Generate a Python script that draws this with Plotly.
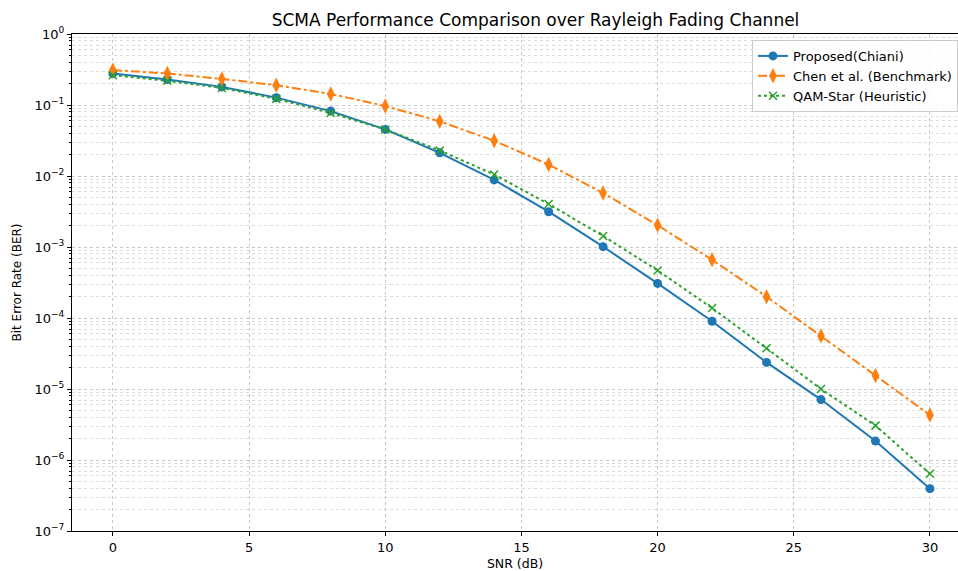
import plotly.graph_objects as go

snr = [0, 2, 4, 6, 8, 10, 12, 14, 16, 18, 20, 22, 24, 26, 28, 30]
ber_proposed = [0.278, 0.229, 0.18, 0.127, 0.082, 0.0453, 0.0212, 0.0088, 0.00314, 0.00101,
                3.07e-4, 9.0e-5, 2.37e-5, 7.1e-6, 1.85e-6, 3.95e-7]
ber_chen = [0.31, 0.278, 0.233, 0.19, 0.143, 0.0968, 0.0588, 0.0314, 0.0145, 0.00576,
            0.00203, 6.6e-4, 2.0e-4, 5.6e-5, 1.55e-5, 4.3e-6]
ber_qam = [0.263, 0.219, 0.174, 0.122, 0.077, 0.0453, 0.0229, 0.0105, 0.00403, 0.00143,
           4.68e-4, 1.38e-4, 3.74e-5, 1.0e-5, 3.05e-6, 6.4e-7]

x_ticks = [0, 5, 10, 15, 20, 25, 30]
y_tickvals = [1e0, 1e-1, 1e-2, 1e-3, 1e-4, 1e-5, 1e-6, 1e-7]
y_ticktext = ["10<sup>0</sup>", "10<sup>−1</sup>", "10<sup>−2</sup>", "10<sup>−3</sup>",
              "10<sup>−4</sup>", "10<sup>−5</sup>", "10<sup>−6</sup>", "10<sup>−7</sup>"]

FONT = "DejaVu Sans"

fig = go.Figure()
fig.add_trace(go.Scatter(
    x=snr, y=ber_proposed, name="Proposed(Chiani)", mode="lines+markers",
    line=dict(color="#1f77b4", width=2, dash="solid"),
    marker=dict(symbol="circle", size=9, color="#1f77b4"),
))
fig.add_trace(go.Scatter(
    x=snr, y=ber_chen, name="Chen et al. (Benchmark)", mode="lines+markers",
    line=dict(color="#ff7f0e", width=2, dash="dashdot"),
    marker=dict(symbol="diamond-tall", size=11, color="#ff7f0e"),
))
fig.add_trace(go.Scatter(
    x=snr, y=ber_qam, name="QAM-Star (Heuristic)", mode="lines+markers",
    line=dict(color="#2ca02c", width=2, dash="dot"),
    marker=dict(symbol="x-thin", size=8, color="#2ca02c",
                line=dict(color="#2ca02c", width=1.5)),
))

fig.update_layout(
    width=958, height=571,
    margin=dict(l=72, r=0, t=34, b=40),
    paper_bgcolor="white", plot_bgcolor="white",
    font=dict(family=FONT, size=12, color="black"),
    title=dict(text="SCMA Performance Comparison over Rayleigh Fading Channel",
               x=535.5 / 958, xanchor="center", xref="container",
               y=1 - 20 / 571, yanchor="middle", yref="container",
               font=dict(family=FONT, size=17, color="black")),
    showlegend=True,
    legend=dict(x=(752 - 72) / 886, xanchor="left", y=0.988, yanchor="top",
                bgcolor="rgba(255,255,255,0.85)", bordercolor="#cccccc", borderwidth=1,
                font=dict(family=FONT, size=13, color="black"),
                tracegroupgap=0, itemwidth=30),
)

fig.update_xaxes(
    range=[-1.5, 31.03], tickvals=x_ticks, automargin=False,
    showline=True, linecolor="black", linewidth=1, mirror=True,
    ticks="outside", ticklen=4, tickcolor="black",
    tickfont=dict(family=FONT, size=13),
    showgrid=True, gridcolor="#c8c8c8", griddash="dot", gridwidth=1,
    zeroline=False,
    title=dict(text="SNR (dB)", font=dict(family=FONT, size=12.5), standoff=8),
)
fig.update_yaxes(
    type="log", range=[-7, 0], automargin=False,
    tickvals=y_tickvals, ticktext=y_ticktext,
    showline=True, linecolor="black", linewidth=1, mirror=False,
    ticks="outside", ticklen=4, tickcolor="black",
    tickfont=dict(family=FONT, size=13),
    showgrid=True, gridcolor="#c8c8c8", griddash="dot", gridwidth=1,
    minor=dict(dtick="D1", ticks="outside", ticklen=2, tickcolor="black",
               showgrid=True, gridcolor="#dcdcdc", griddash="dot", gridwidth=1),
    zeroline=False,
    title=dict(text="Bit Error Rate (BER)", font=dict(family=FONT, size=12), standoff=10),
)

fig.write_html("out.html", config={"displayModeBar": False},
               post_script="document.body.style.margin='0';")
